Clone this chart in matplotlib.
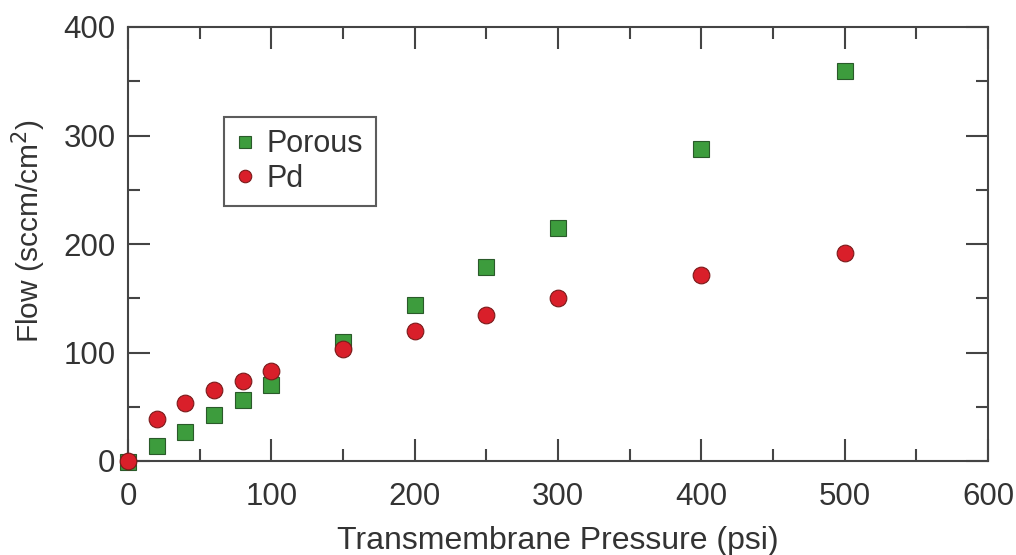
import matplotlib
matplotlib.use("Agg")
import matplotlib.pyplot as plt
from matplotlib.ticker import MultipleLocator

# Transmembrane pressure (psi) and measured flow (sccm/cm^2)
pressure = [0, 20, 40, 60, 80, 100, 150, 200, 250, 300, 400, 500]
porous_flow = [-1, 14, 27, 42, 56, 70, 110, 144, 179, 215, 288, 359]
pd_flow = [0, 39, 53, 65, 74, 83, 103, 120, 135, 150, 171, 192]

x_ticks = [0, 100, 200, 300, 400, 500, 600]
y_ticks = [0, 100, 200, 300, 400]

plt.rcParams['font.family'] = ['Liberation Sans', 'DejaVu Sans']
ink = '#333333'

fig = plt.figure(figsize=(10.16, 5.55), dpi=100)
ax = fig.add_axes([128 / 1016, 1 - 461 / 555, (988 - 128) / 1016, (461 - 27) / 555])

ax.plot(pressure, porous_flow, linestyle='none', marker='s', markersize=11.5,
        markerfacecolor='#3d9c3d', markeredgecolor='#2a5a2a', markeredgewidth=0.8,
        label='Porous', clip_on=False, zorder=3)
ax.plot(pressure, pd_flow, linestyle='none', marker='o', markersize=12,
        markerfacecolor='#d91f2a', markeredgecolor='#7a1a1a', markeredgewidth=0.8,
        label='Pd', clip_on=False, zorder=4)

ax.set_xlim(0, 600)
ax.set_ylim(0, 400)
ax.set_xticks(x_ticks)
ax.set_yticks(y_ticks)
ax.xaxis.set_minor_locator(MultipleLocator(50))
ax.yaxis.set_minor_locator(MultipleLocator(50))

for side in ax.spines.values():
    side.set_color('#444444')
    side.set_linewidth(1.5)

ax.tick_params(which='both', direction='in', top=True, right=True,
               color='#444444', width=1.5, labelsize=22.5, labelcolor=ink)
ax.tick_params(which='major', length=16)
ax.tick_params(which='minor', length=8.5)
ax.tick_params(axis='x', which='both', pad=15)
ax.tick_params(axis='y', which='both', pad=9)

ax.set_xlabel('Transmembrane Pressure (psi)', fontsize=23, color=ink, labelpad=10)
ax.set_ylabel('Flow (sccm/cm$^2$)', fontsize=21.5, color=ink, labelpad=8)
ax.yaxis.set_label_coords(-0.093, 0.53)

leg = ax.legend(loc='upper left', bbox_to_anchor=(96 / 860, 1 - 90 / 434),
                fontsize=22, frameon=True, fancybox=False, markerscale=0.75,
                handlelength=0.6, handletextpad=0.4, borderpad=0.4,
                labelspacing=0.15, borderaxespad=0)
leg.get_frame().set_edgecolor('#333333')
leg.get_frame().set_linewidth(1.5)
for t in leg.get_texts():
    t.set_color(ink)

fig.savefig('out.png', dpi=100)
